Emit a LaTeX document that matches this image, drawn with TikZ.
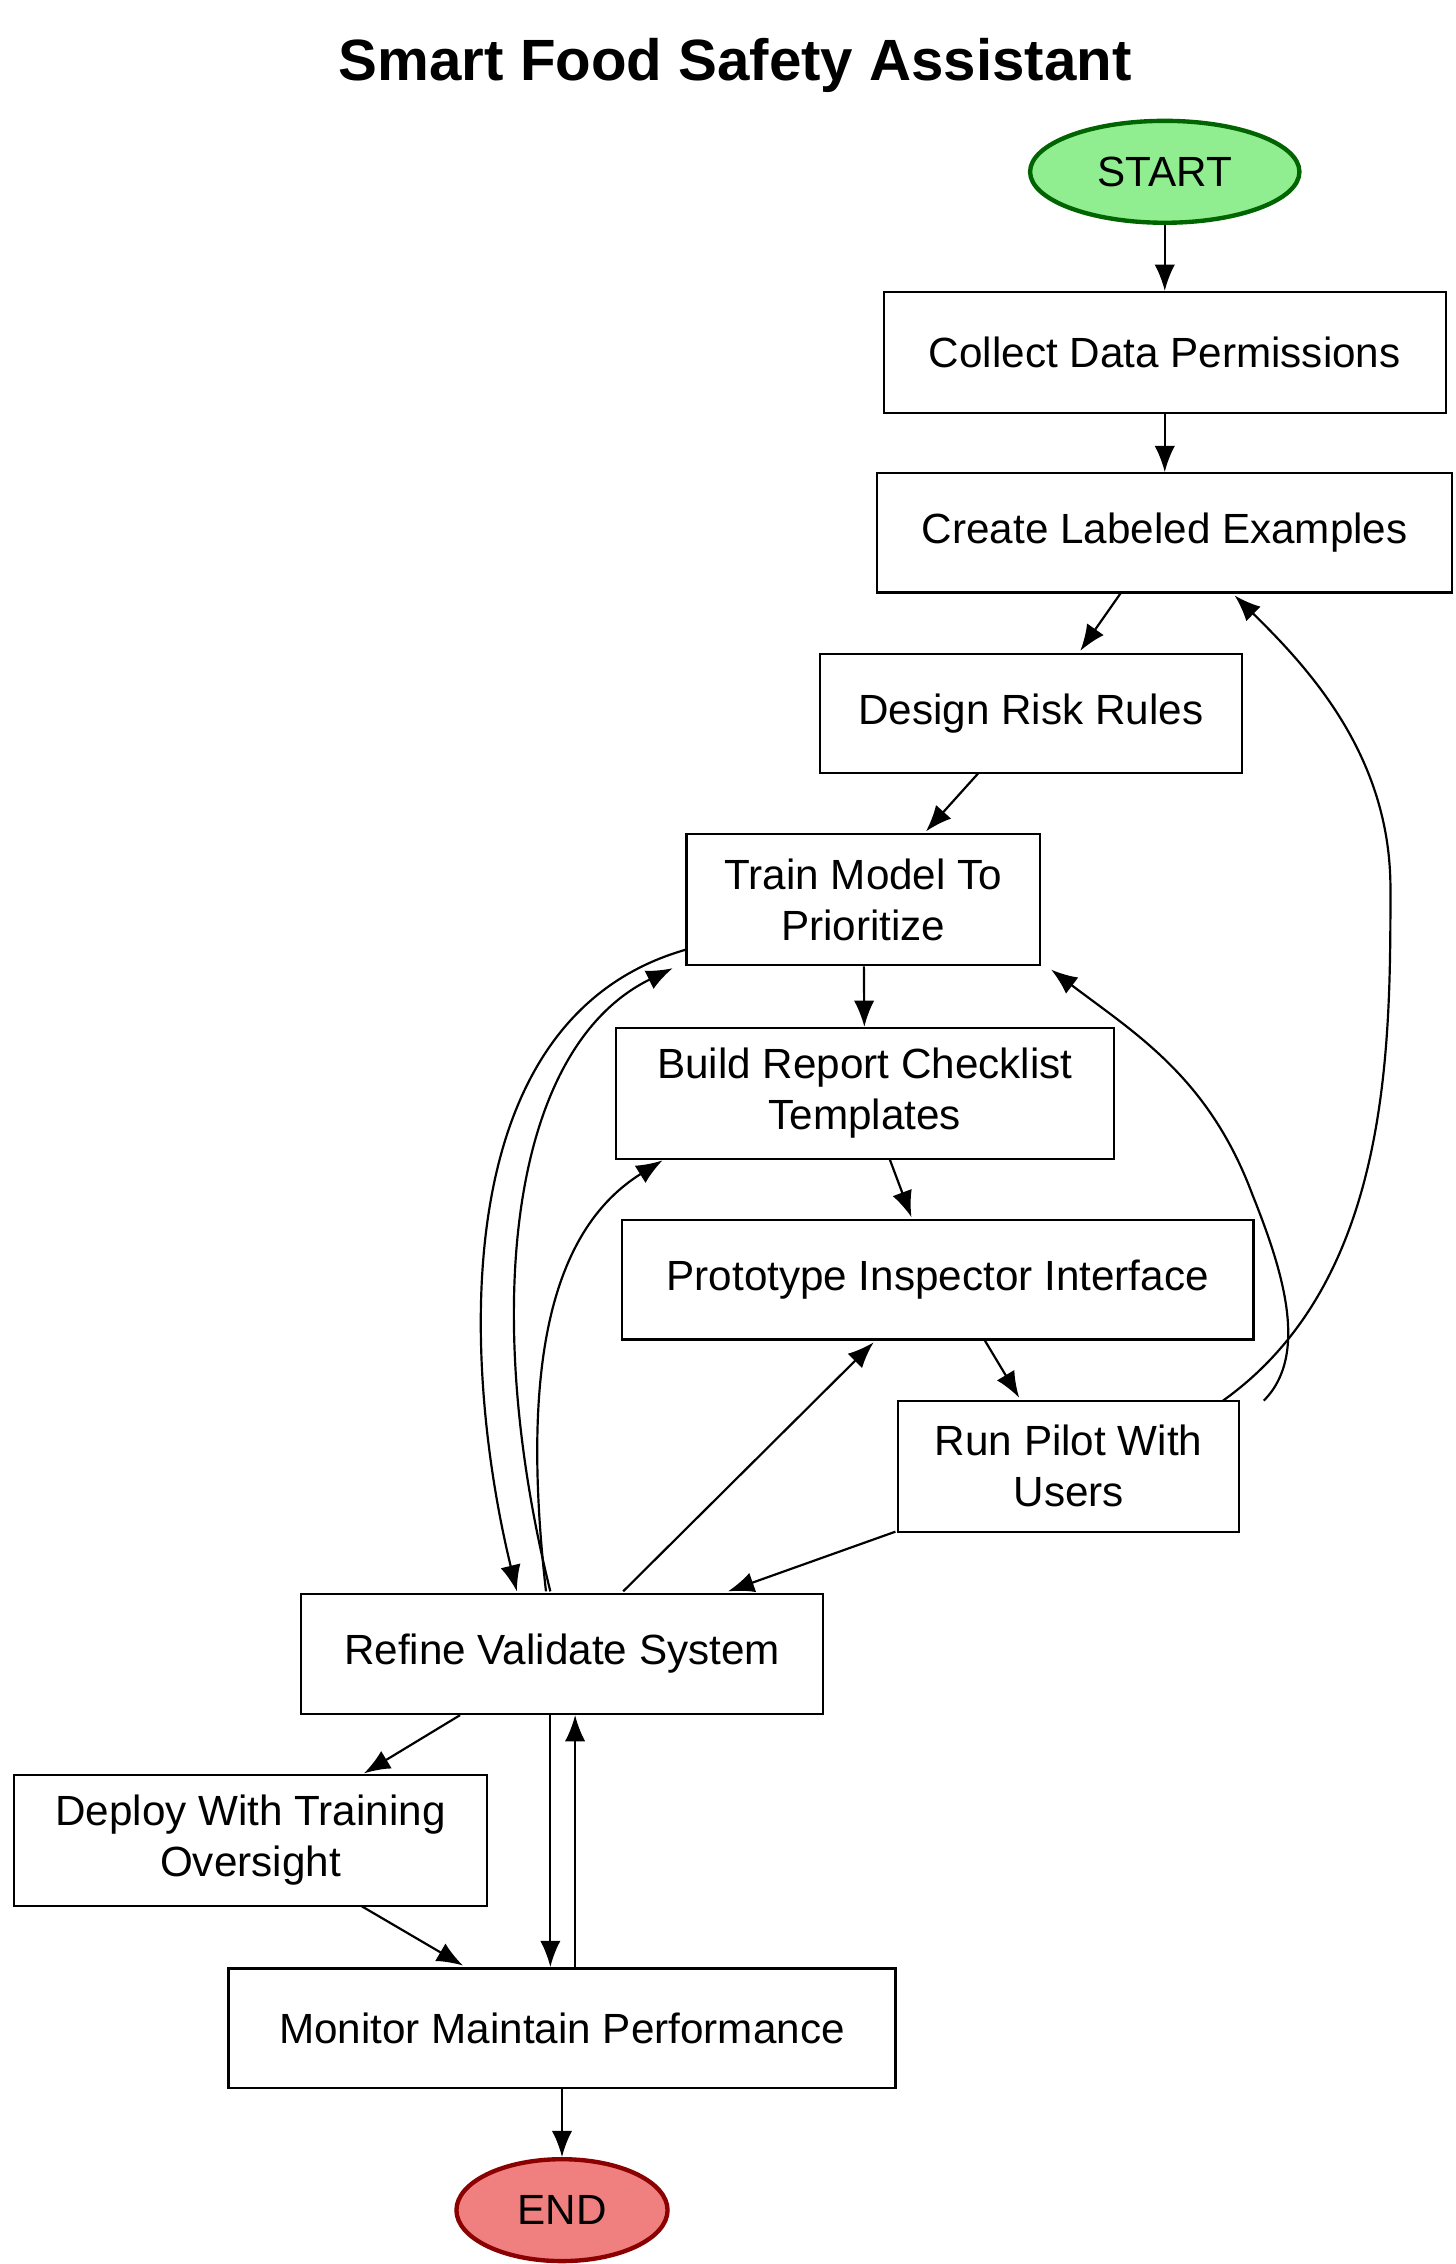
\documentclass[tikz,border=0pt]{standalone}
\usepackage{fontspec}
\setmainfont{Liberation Sans}
\usetikzlibrary{shapes.geometric,arrows.meta}
\begin{document}
\begin{tikzpicture}[x=1pt,y=-1pt,
  box/.style={draw,line width=1.5pt,rectangle,align=center,font=\fontsize{29}{35}\selectfont,inner sep=0pt},
  term/.style={draw,ellipse,line width=3pt,font=\fontsize{29}{35}\selectfont,inner sep=0pt},
  arr/.style={-{Latex[length=18pt,width=14pt]},line width=1.5pt}]
\useasboundingbox (0,0) rectangle (1000,1555);
\node[font=\bfseries\fontsize{40}{48}\selectfont] (title) at (505,45) {Smart Food Safety Assistant};
\node[term,fill={rgb,255:red,144;green,238;blue,144},draw={rgb,255:red,0;green,100;blue,0},minimum width=185pt,minimum height=70pt] (start) at (800,118) {START};
\node[box,minimum width=386pt,minimum height=83pt] (collect) at (800,242) {Collect Data Permissions};
\node[box,minimum width=395pt,minimum height=82pt] (create) at (800,366) {Create Labeled Examples};
\node[box,minimum width=290pt,minimum height=82pt] (design) at (708,490) {Design Risk Rules};
\node[box,minimum width=243pt,minimum height=90pt] (train) at (593,618) {Train Model To\\Prioritize};
\node[box,minimum width=342pt,minimum height=90pt] (build) at (594,751) {Build Report Checklist\\Templates};
\node[box,minimum width=434pt,minimum height=82pt] (proto) at (644,879) {Prototype Inspector Interface};
\node[box,minimum width=234pt,minimum height=90pt] (run) at (734,1007) {Run Pilot With\\Users};
\node[box,minimum width=359pt,minimum height=82pt] (refine) at (386,1136) {Refine Validate System};
\node[box,minimum width=325pt,minimum height=90pt] (deploy) at (172,1264) {Deploy With Training\\Oversight};
\node[box,minimum width=458pt,minimum height=82pt] (monitor) at (386,1393) {Monitor Maintain Performance};
\node[term,fill={rgb,255:red,240;green,128;blue,128},draw={rgb,255:red,139;green,0;blue,0},minimum width=145pt,minimum height=70pt] (end) at (386,1518) {END};

\coordinate (c1) at (770,407); \coordinate (c2) at (742,447);
\coordinate (d1) at (672,531); \coordinate (d2) at (636,571);
\coordinate (b1) at (611,796); \coordinate (b2) at (626,836);
\coordinate (p1) at (676,920); \coordinate (p2) at (700,960);
\coordinate (r1) at (615,1052); \coordinate (r2) at (500,1093);
\draw[arr] (start) -- (collect);
\draw[arr] (collect) -- (create);
\draw[arr] (c1) -- (c2);
\draw[arr] (d1) -- (d2);
\draw[arr] (train) -- (build);
\draw[arr] (b1) -- (b2);
\draw[arr] (p1) -- (p2);
\draw[arr] (r1) -- (r2);
\coordinate (ra) at (840,962); \coordinate (rb) at (848,409);
\draw[arr] (ra) .. controls (955,880) and (955,720) .. (955,610) .. controls (955,520) and (900,460) .. (rb);
\coordinate (rc) at (868,962); \coordinate (rd) at (722,666);
\draw[arr] (rc) .. controls (900,930) and (880,870) .. (860,820) .. controls (830,740) and (780,710) .. (rd);
\coordinate (ta) at (472,652); \coordinate (tb) at (355,1093);
\draw[arr] (ta) .. controls (300,700) and (320,950) .. (tb);
\coordinate (rf) at (378,1093); \coordinate (tc) at (462,665);
\draw[arr] (rf) .. controls (330,900) and (350,720) .. (tc);
\coordinate (rg) at (375,1093); \coordinate (bc) at (455,797);
\draw[arr] (rg) .. controls (360,960) and (370,850) .. (bc);
\coordinate (rh) at (428,1093); \coordinate (pc) at (600,922);
\draw[arr] (rh) -- (pc);
\coordinate (ri) at (316,1178); \coordinate (da) at (250,1218);
\draw[arr] (ri) -- (da);
\coordinate (db) at (248,1309); \coordinate (ma) at (318,1350);
\draw[arr] (db) -- (ma);
\coordinate (rj) at (378,1178); \coordinate (mb) at (378,1351);
\draw[arr] (rj) -- (mb);
\coordinate (mc) at (395,1352); \coordinate (rk) at (395,1178);
\draw[arr] (mc) -- (rk);
\draw[arr] (monitor) -- (end);
\end{tikzpicture}
\end{document}
